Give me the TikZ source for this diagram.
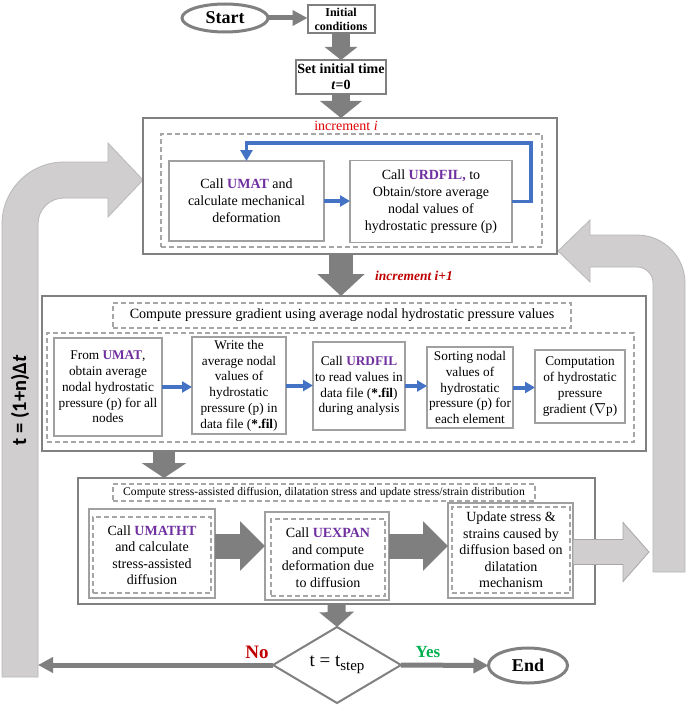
\documentclass[tikz,border=0pt]{standalone}
\usepackage{fontspec}
\setmainfont{Liberation Serif}
\newfontfamily\carl{Carlito}
\usetikzlibrary{arrows.meta,shapes.geometric,calc}
\definecolor{pur}{HTML}{7030A0}
\definecolor{incred}{HTML}{E00000}
\definecolor{darkred}{HTML}{C00000}
\definecolor{yesgreen}{HTML}{00B050}
\definecolor{bluea}{HTML}{4472C4}
\definecolor{arrgray}{HTML}{7F7F7F}
\definecolor{boxgray}{HTML}{808080}
\definecolor{thingray}{HTML}{A0A0A0}
\definecolor{dashgray}{HTML}{A6A6A6}
\definecolor{lightfill}{HTML}{D0CECE}
\definecolor{lightline}{HTML}{B8B8B8}
\newcommand{\purw}[1]{\textcolor{pur}{\textbf{#1}}}
\begin{document}
\begin{tikzpicture}[x=1pt,y=-1pt,
  every node/.style={inner sep=0pt, outer sep=0pt, align=center},
  bigbox/.style={draw=boxgray, line width=2.5pt},
  topbox/.style={draw=boxgray, line width=2pt, font=\bfseries},
  subbox/.style={draw=thingray, line width=1.2pt},
  dbox/.style={draw=dashgray, line width=1.4pt, dash pattern=on 5pt off 3pt},
  oval/.style={ellipse, draw=boxgray, line width=3pt, font=\fontsize{18}{20}\selectfont\bfseries},
  txtA/.style={font=\fontsize{14}{17}\selectfont},
  txtB/.style={font=\fontsize{13.3}{15.8}\selectfont},
  txtC/.style={font=\fontsize{14}{16.5}\selectfont},
  thinarrow/.style={draw=arrgray, line width=5pt, -{Triangle[width=15pt,length=15pt]}},
  bluearrow/.style={draw=bluea, line width=4pt, -{Triangle[width=11pt,length=10pt]}},
  feedback/.style={fill=lightfill, draw=lightline, line width=0.8pt}
]
\useasboundingbox (0,0) rectangle (685,706);
\fill[white] (0,0) rectangle (685,706);

% feedback arrows
\filldraw[feedback] (2,677) -- (2,224) .. controls (2,189.8) and (29.8,162) .. (64,162) -- (108,162) -- (108,143) -- (143,180) -- (108,217) -- (108,198) -- (64,198) .. controls (49.6,198) and (38,209.6) .. (38,224) -- (38,677) -- cycle;
\filldraw[feedback] (653,572) -- (653,283) .. controls (653,274.2) and (645.8,267) .. (637,267) -- (590,267) -- (590,282) -- (558,251) -- (590,220) -- (590,235) -- (637,235) .. controls (663.5,235) and (685,256.5) .. (685,283) -- (685,572) -- cycle;
\node[rotate=90, font=\fontsize{20.5}{22}\selectfont\carl\bfseries] (tlabel) at (20,400) {t = (1+n)Δ\textit{t}};

% top
\node[oval, minimum width=86pt, minimum height=28pt] (start) at (225,18) {Start};
\node[topbox, minimum width=67pt, minimum height=28pt, font=\fontsize{12}{14}\selectfont\bfseries] (init) at (341,19) {Initial\\conditions};
\node[topbox, minimum width=90pt, minimum height=34pt, font=\fontsize{14}{16}\selectfont\bfseries] (settime) at (341,77) {Set initial time\\\textit{t}=0};

% box 1
\node[bigbox, minimum width=414pt, minimum height=136pt] (box1) at (350,186) {};
\node[dbox, minimum width=381pt, minimum height=113pt] (dash1) at (351.5,190.5) {};
\node[text=incred, font=\fontsize{14}{16}\selectfont] (inc) at (346,126) {increment \textit{i}};
\node[subbox, txtA, minimum width=155pt, minimum height=80pt] (A) at (246.5,201) {Call \purw{UMAT} and\\calculate mechanical\\deformation};
\node[subbox, txtA, minimum width=162pt, minimum height=82pt] (B) at (431,201.5) {Call \purw{URDFIL,} to\\Obtain/store average\\nodal values of\\hydrostatic pressure (p)};
\node[text=darkred, font=\fontsize{13.5}{15}\selectfont\bfseries\itshape] (inc1) at (414,276) {increment i+1};

% box 2
\node[bigbox, minimum width=604pt, minimum height=155pt] (box2) at (344,373.5) {};
\node[dbox, minimum width=458pt, minimum height=25pt, font=\fontsize{14.1}{16}\selectfont] (title2) at (342,315.5) {Compute pressure gradient using average nodal hydrostatic pressure values};
\node[dbox, minimum width=587pt, minimum height=109pt] (dash2) at (340.5,387.5) {};
\node[subbox, txtB, minimum width=108pt, minimum height=98pt] (b1) at (108,387) {From \purw{UMAT},\\obtain average\\nodal hydrostatic\\pressure (p) for all\\nodes};
\node[subbox, txtB, minimum width=94pt, minimum height=97pt] (b2) at (239,385.5) {Write the\\average nodal\\values of\\hydrostatic\\pressure (p) in\\data file (\textbf{*.fil})};
\node[subbox, txtB, minimum width=92pt, minimum height=88pt] (b3) at (359,386) {Call \purw{URDFIL}\\to read values in\\data file (\textbf{*.fil})\\during analysis};
\node[subbox, txtB, minimum width=86pt, minimum height=81pt] (b4) at (470,387.5) {Sorting nodal\\values of\\hydrostatic\\pressure (p) for\\each element};
\node[subbox, txtB, minimum width=90pt, minimum height=73pt] (b5) at (580,386.5) {Computation\\of hydrostatic\\pressure\\gradient ($\nabla$p)};

% box 3
\node[bigbox, minimum width=517pt, minimum height=126pt] (box3) at (336.5,541) {};
\node[dbox, minimum width=422pt, minimum height=17pt, font=\fontsize{11.6}{13}\selectfont] (title3) at (324,492.5) {Compute stress-assisted diffusion, dilatation stress and update stress/strain distribution};
\node[subbox, minimum width=126pt, minimum height=89pt] (s1o) at (152,553.5) {};
\node[dbox, txtC, minimum width=118pt, minimum height=76pt] (s1i) at (152,555) {Call \purw{UMATHT}\\and calculate\\stress-assisted\\diffusion};
\node[subbox, minimum width=124pt, minimum height=88pt] (s2o) at (327,556) {};
\node[dbox, txtC, minimum width=114pt, minimum height=77pt] (s2i) at (328,557.5) {Call \purw{UEXPAN}\\and compute\\deformation due\\to diffusion};
\node[subbox, minimum width=125pt, minimum height=95pt] (s3o) at (510.5,550.5) {};
\node[dbox, txtC, minimum width=118pt, minimum height=86pt] (s3i) at (511,550) {Update stress \&\\strains caused by\\diffusion based on\\dilatation\\mechanism};

% decision and end
\node[diamond, draw=boxgray, line width=2pt, minimum width=128pt, minimum height=76pt, font=\fontsize{19}{21}\selectfont] (dec) at (337,665) {t = t\raisebox{-4pt}{\fontsize{15}{16}\selectfont step}};
\node[oval, minimum width=79pt, minimum height=35pt] (endn) at (528,665.5) {End};
\node[text=darkred, font=\fontsize{19}{21}\selectfont\bfseries] (no) at (257,652) {No};
\node[text=yesgreen, font=\fontsize{17}{19}\selectfont\bfseries] (yes) at (428,652) {Yes};

% helper coordinates
\coordinate (r3) at (0,546);
\coordinate (r3b) at (0,552);
\coordinate (d2) at (164,451);
\coordinate (barr) at (38,665);

% connectors
\draw[thinarrow] (start.east) -- (start.east -| init.west);
\draw[draw=arrgray, line width=18pt, -{Triangle[width=32pt,length=13pt]}] (init.south) -- (settime.north);
\draw[draw=arrgray, line width=18pt, -{Triangle[width=41pt,length=17pt]}] (settime.south) -- (settime.south |- box1.north);
\draw[bluearrow] (A.east) -- (A.east -| B.west);
\draw[draw=bluea, line width=3.5pt, -{Triangle[width=12pt,length=11pt]}] (B.east) -| (531,143) -| (A.north);
\draw[draw=arrgray, line width=24pt, -{Triangle[width=46pt,length=22pt]}] (settime.south |- box1.south) -- (settime.south |- box2.north);
\draw[bluearrow] (b1.east) -- (b1.east -| b2.west);
\draw[bluearrow] (b2.east) -- (b2.east -| b3.west);
\draw[bluearrow] (b3.east) -- (b3.east -| b4.west);
\draw[bluearrow] (b4.east) -- (b4.east -| b5.west);
\draw[draw=arrgray, line width=22pt, -{Triangle[width=44pt,length=15pt]}] (d2) -- (d2 |- box3.north);
\draw[draw=arrgray, line width=25pt, -{Triangle[width=48pt,length=25pt]}] (s1o.east |- r3) -- (s2o.west |- r3);
\draw[draw=arrgray, line width=25pt, -{Triangle[width=48pt,length=25pt]}] (s2o.east |- r3) -- (s3o.west |- r3);
\filldraw[fill=lightfill, draw=dashgray, line width=0.8pt] (s3o.east |- r3b) ++(0,-12.5) -- ++(50,0) -- ++(0,-17) -- ++(26,29.5) -- ++(-26,29.5) -- ++(0,-17) -- ++(-50,0) -- cycle;
\draw[draw=arrgray, line width=18pt, -{Triangle[width=34pt,length=15pt]}] (box3.south) -- (dec.north);
\draw[thinarrow] (dec.west) -- (barr);
\draw[thinarrow] (dec.east) -- (endn.west);
\end{tikzpicture}
\end{document}
